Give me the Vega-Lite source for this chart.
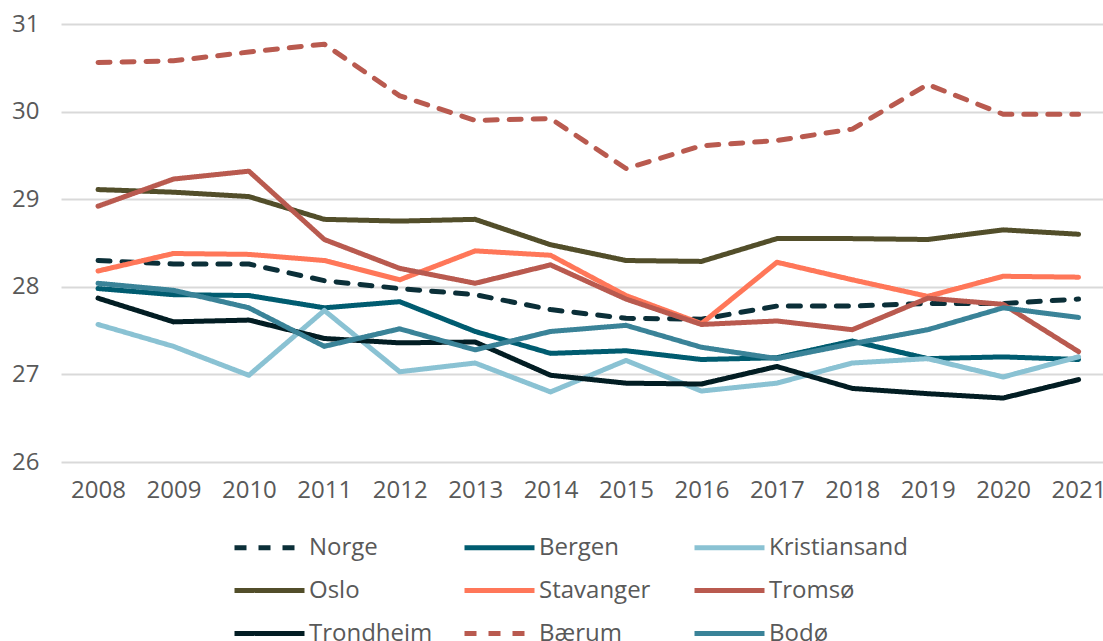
{
  "$schema": "https://vega.github.io/schema/vega-lite/v6.json",
  "width": 1042,
  "height": 438,
  "autosize": {"type": "none"},
  "padding": {"left": 61, "top": 24, "right": 0, "bottom": 179},
  "background": "white",
  "config": {
    "view": {"stroke": null},
    "font": "Open Sans",
    "axis": {"labelFont": "Open Sans", "labelFontSize": 24, "labelColor": "#595959", "domain": false, "ticks": false, "title": null},
    "legend": {
      "orient": "none", "legendX": 171, "legendY": 501, "columns": 3, "direction": "horizontal",
      "symbolType": "M-1,0H2.5", "symbolSize": 1600, "symbolStrokeWidth": 5,
      "labelFont": "Open Sans", "labelFontSize": 24, "labelColor": "#595959", "labelOffset": 32,
      "gridAlign": "all", "columnPadding": 6, "rowPadding": 8, "padding": 0, "title": null
    }
  },
  "datasets": {
    "d": [
      {"s": "Norge", "y": 2008, "v": 28.30}, {"s": "Norge", "y": 2009, "v": 28.26}, {"s": "Norge", "y": 2010, "v": 28.26}, {"s": "Norge", "y": 2011, "v": 28.07}, {"s": "Norge", "y": 2012, "v": 27.98}, {"s": "Norge", "y": 2013, "v": 27.91}, {"s": "Norge", "y": 2014, "v": 27.74}, {"s": "Norge", "y": 2015, "v": 27.64}, {"s": "Norge", "y": 2016, "v": 27.63}, {"s": "Norge", "y": 2017, "v": 27.78}, {"s": "Norge", "y": 2018, "v": 27.78}, {"s": "Norge", "y": 2019, "v": 27.81}, {"s": "Norge", "y": 2020, "v": 27.81}, {"s": "Norge", "y": 2021, "v": 27.86},
      {"s": "Bergen", "y": 2008, "v": 27.98}, {"s": "Bergen", "y": 2009, "v": 27.91}, {"s": "Bergen", "y": 2010, "v": 27.90}, {"s": "Bergen", "y": 2011, "v": 27.76}, {"s": "Bergen", "y": 2012, "v": 27.83}, {"s": "Bergen", "y": 2013, "v": 27.49}, {"s": "Bergen", "y": 2014, "v": 27.24}, {"s": "Bergen", "y": 2015, "v": 27.27}, {"s": "Bergen", "y": 2016, "v": 27.17}, {"s": "Bergen", "y": 2017, "v": 27.19}, {"s": "Bergen", "y": 2018, "v": 27.38}, {"s": "Bergen", "y": 2019, "v": 27.18}, {"s": "Bergen", "y": 2020, "v": 27.20}, {"s": "Bergen", "y": 2021, "v": 27.17},
      {"s": "Kristiansand", "y": 2008, "v": 27.57}, {"s": "Kristiansand", "y": 2009, "v": 27.32}, {"s": "Kristiansand", "y": 2010, "v": 26.99}, {"s": "Kristiansand", "y": 2011, "v": 27.73}, {"s": "Kristiansand", "y": 2012, "v": 27.03}, {"s": "Kristiansand", "y": 2013, "v": 27.13}, {"s": "Kristiansand", "y": 2014, "v": 26.80}, {"s": "Kristiansand", "y": 2015, "v": 27.16}, {"s": "Kristiansand", "y": 2016, "v": 26.81}, {"s": "Kristiansand", "y": 2017, "v": 26.90}, {"s": "Kristiansand", "y": 2018, "v": 27.13}, {"s": "Kristiansand", "y": 2019, "v": 27.18}, {"s": "Kristiansand", "y": 2020, "v": 26.97}, {"s": "Kristiansand", "y": 2021, "v": 27.20},
      {"s": "Oslo", "y": 2008, "v": 29.11}, {"s": "Oslo", "y": 2009, "v": 29.08}, {"s": "Oslo", "y": 2010, "v": 29.03}, {"s": "Oslo", "y": 2011, "v": 28.77}, {"s": "Oslo", "y": 2012, "v": 28.75}, {"s": "Oslo", "y": 2013, "v": 28.77}, {"s": "Oslo", "y": 2014, "v": 28.48}, {"s": "Oslo", "y": 2015, "v": 28.30}, {"s": "Oslo", "y": 2016, "v": 28.29}, {"s": "Oslo", "y": 2017, "v": 28.55}, {"s": "Oslo", "y": 2018, "v": 28.55}, {"s": "Oslo", "y": 2019, "v": 28.54}, {"s": "Oslo", "y": 2020, "v": 28.65}, {"s": "Oslo", "y": 2021, "v": 28.60},
      {"s": "Stavanger", "y": 2008, "v": 28.18}, {"s": "Stavanger", "y": 2009, "v": 28.38}, {"s": "Stavanger", "y": 2010, "v": 28.37}, {"s": "Stavanger", "y": 2011, "v": 28.30}, {"s": "Stavanger", "y": 2012, "v": 28.08}, {"s": "Stavanger", "y": 2013, "v": 28.41}, {"s": "Stavanger", "y": 2014, "v": 28.36}, {"s": "Stavanger", "y": 2015, "v": 27.90}, {"s": "Stavanger", "y": 2016, "v": 27.58}, {"s": "Stavanger", "y": 2017, "v": 28.28}, {"s": "Stavanger", "y": 2018, "v": 28.08}, {"s": "Stavanger", "y": 2019, "v": 27.89}, {"s": "Stavanger", "y": 2020, "v": 28.12}, {"s": "Stavanger", "y": 2021, "v": 28.11},
      {"s": "Tromsø", "y": 2008, "v": 28.92}, {"s": "Tromsø", "y": 2009, "v": 29.23}, {"s": "Tromsø", "y": 2010, "v": 29.32}, {"s": "Tromsø", "y": 2011, "v": 28.54}, {"s": "Tromsø", "y": 2012, "v": 28.21}, {"s": "Tromsø", "y": 2013, "v": 28.04}, {"s": "Tromsø", "y": 2014, "v": 28.25}, {"s": "Tromsø", "y": 2015, "v": 27.86}, {"s": "Tromsø", "y": 2016, "v": 27.57}, {"s": "Tromsø", "y": 2017, "v": 27.61}, {"s": "Tromsø", "y": 2018, "v": 27.51}, {"s": "Tromsø", "y": 2019, "v": 27.87}, {"s": "Tromsø", "y": 2020, "v": 27.80}, {"s": "Tromsø", "y": 2021, "v": 27.26},
      {"s": "Trondheim", "y": 2008, "v": 27.87}, {"s": "Trondheim", "y": 2009, "v": 27.60}, {"s": "Trondheim", "y": 2010, "v": 27.62}, {"s": "Trondheim", "y": 2011, "v": 27.41}, {"s": "Trondheim", "y": 2012, "v": 27.36}, {"s": "Trondheim", "y": 2013, "v": 27.37}, {"s": "Trondheim", "y": 2014, "v": 26.99}, {"s": "Trondheim", "y": 2015, "v": 26.90}, {"s": "Trondheim", "y": 2016, "v": 26.89}, {"s": "Trondheim", "y": 2017, "v": 27.09}, {"s": "Trondheim", "y": 2018, "v": 26.84}, {"s": "Trondheim", "y": 2019, "v": 26.78}, {"s": "Trondheim", "y": 2020, "v": 26.73}, {"s": "Trondheim", "y": 2021, "v": 26.94},
      {"s": "Bærum", "y": 2008, "v": 30.56}, {"s": "Bærum", "y": 2009, "v": 30.58}, {"s": "Bærum", "y": 2010, "v": 30.68}, {"s": "Bærum", "y": 2011, "v": 30.77}, {"s": "Bærum", "y": 2012, "v": 30.18}, {"s": "Bærum", "y": 2013, "v": 29.90}, {"s": "Bærum", "y": 2014, "v": 29.92}, {"s": "Bærum", "y": 2015, "v": 29.35}, {"s": "Bærum", "y": 2016, "v": 29.61}, {"s": "Bærum", "y": 2017, "v": 29.67}, {"s": "Bærum", "y": 2018, "v": 29.80}, {"s": "Bærum", "y": 2019, "v": 30.31}, {"s": "Bærum", "y": 2020, "v": 29.97}, {"s": "Bærum", "y": 2021, "v": 29.97},
      {"s": "Bodø", "y": 2008, "v": 28.04}, {"s": "Bodø", "y": 2009, "v": 27.96}, {"s": "Bodø", "y": 2010, "v": 27.76}, {"s": "Bodø", "y": 2011, "v": 27.32}, {"s": "Bodø", "y": 2012, "v": 27.52}, {"s": "Bodø", "y": 2013, "v": 27.28}, {"s": "Bodø", "y": 2014, "v": 27.49}, {"s": "Bodø", "y": 2015, "v": 27.56}, {"s": "Bodø", "y": 2016, "v": 27.31}, {"s": "Bodø", "y": 2017, "v": 27.18}, {"s": "Bodø", "y": 2018, "v": 27.35}, {"s": "Bodø", "y": 2019, "v": 27.51}, {"s": "Bodø", "y": 2020, "v": 27.76}, {"s": "Bodø", "y": 2021, "v": 27.65}
    ]
  },
  "data": {"name": "d"},
  "mark": {"type": "line", "strokeWidth": 5, "strokeCap": "round", "strokeJoin": "round"},
  "encoding": {
    "x": {
      "field": "y", "type": "quantitative",
      "scale": {"domain": [2007.509, 2021.324], "nice": false, "zero": false},
      "axis": {"values": [2008, 2009, 2010, 2011, 2012, 2013, 2014, 2015, 2016, 2017, 2018, 2019, 2020, 2021], "format": "d", "grid": false, "labelPadding": 16, "labelFlush": false, "labelOverlap": false}
    },
    "y": {
      "field": "v", "type": "quantitative",
      "scale": {"domain": [26, 31], "nice": false, "zero": false},
      "axis": {"values": [26, 27, 28, 29, 30, 31], "grid": true, "gridColor": "#d9d9d9", "gridWidth": 2, "labelPadding": 22}
    },
    "color": {
      "field": "s", "type": "nominal",
      "scale": {
        "domain": ["Norge", "Bergen", "Kristiansand", "Oslo", "Stavanger", "Tromsø", "Trondheim", "Bærum", "Bodø"],
        "range": ["#0b2f38", "#005c70", "#8ac2d3", "#524e2a", "#ff7759", "#b95a4f", "#021d23", "#b95a4f", "#3a8398"]
      },
      "legend": {"title": null}
    },
    "strokeDash": {
      "field": "s", "type": "nominal",
      "scale": {
        "domain": ["Norge", "Bergen", "Kristiansand", "Oslo", "Stavanger", "Tromsø", "Trondheim", "Bærum", "Bodø"],
        "range": [[12, 12], [1, 0], [1, 0], [1, 0], [1, 0], [1, 0], [1, 0], [12, 12], [1, 0]]
      },
      "legend": {"title": null}
    }
  }
}
